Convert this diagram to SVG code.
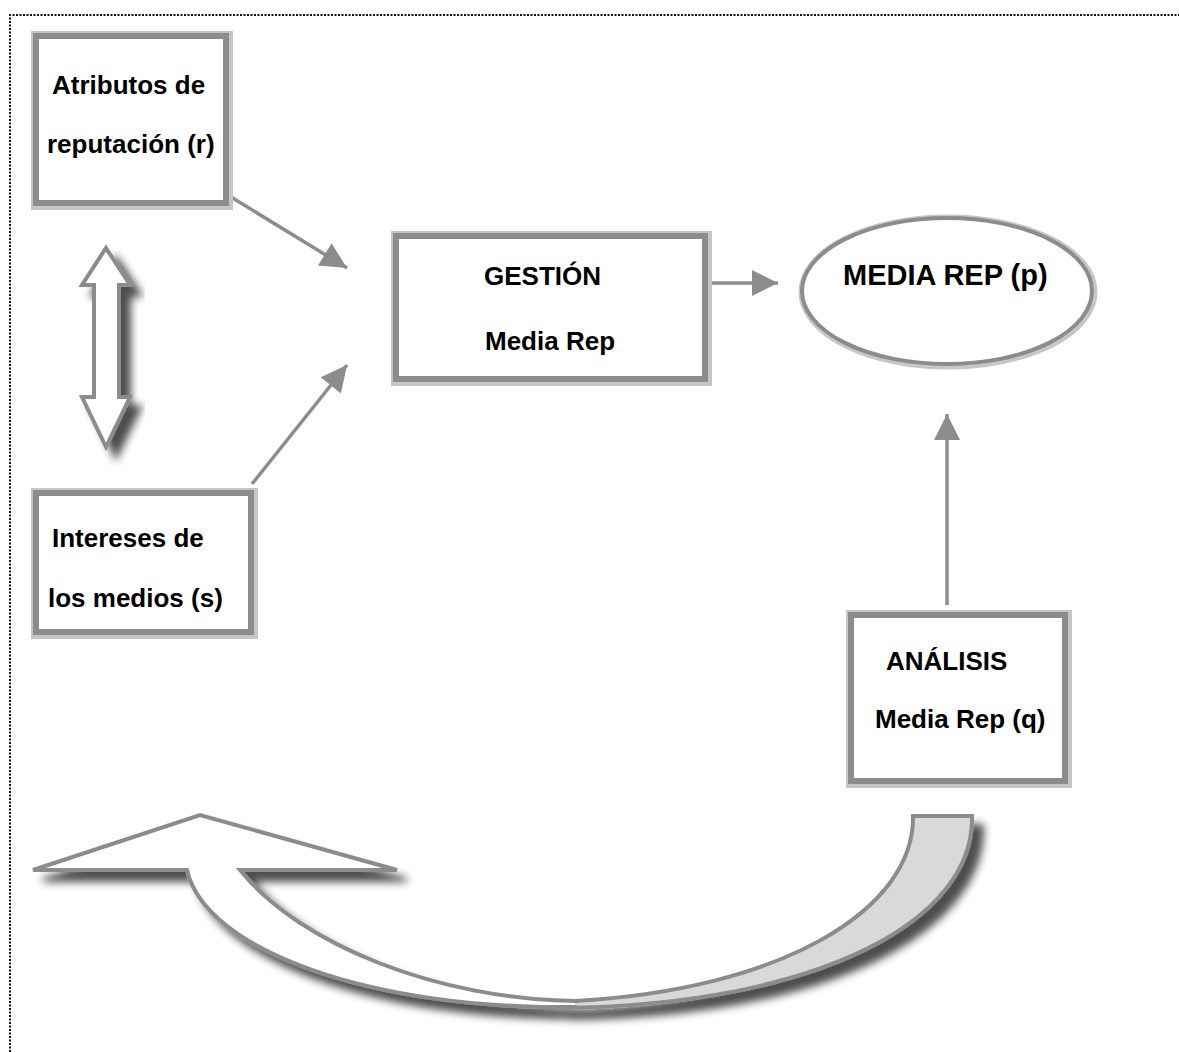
<svg xmlns="http://www.w3.org/2000/svg" width="1179" height="1052" viewBox="0 0 1179 1052">
  <defs>
    <style>
      .lbl { font-family: "Liberation Sans", Arial, sans-serif; font-weight: bold; font-size: 26px; fill: #000; }
      .big { font-size: 29px; }
      .halo { fill: none; stroke: #c6c6c6; stroke-width: 8; }
      .frame { fill: #fff; stroke: #8c8c8c; stroke-width: 6; }
      .link { fill: none; stroke: #8c8c8c; stroke-width: 3.5; }
      .shape { stroke: #8c8c8c; stroke-width: 4; stroke-linejoin: miter; }
      .edge { fill: none; stroke: #8c8c8c; stroke-width: 4; stroke-linejoin: miter; }
    </style>
    <marker id="tri" viewBox="0 0 10 10" refX="10" refY="5" markerUnits="userSpaceOnUse" markerWidth="28" markerHeight="26" orient="auto">
      <path d="M0,0 L10,5 L0,10 Z" fill="#8c8c8c"/>
    </marker>
    <filter id="drop" x="-20%" y="-20%" width="150%" height="150%">
      <feGaussianBlur in="SourceAlpha" stdDeviation="4.5" result="b"/>
      <feOffset in="b" dx="10" dy="10" result="o"/>
      <feComponentTransfer in="o" result="s">
        <feFuncA type="linear" slope="0.7"/>
      </feComponentTransfer>
      <feMerge>
        <feMergeNode in="s"/>
        <feMergeNode in="SourceGraphic"/>
      </feMerge>
    </filter>
  </defs>

  <rect width="1179" height="1052" fill="#fff"/>

  <!-- dotted page frame -->
  <path d="M10,1052 L10,15 L1179,15" fill="none" stroke="#111" stroke-width="2" stroke-dasharray="2,1.5"/>

  <!-- connectors -->
  <g id="connectors">
    <line class="link" x1="231" y1="197" x2="347" y2="268" marker-end="url(#tri)"/>
    <line class="link" x1="252" y1="484" x2="347" y2="365" marker-end="url(#tri)"/>
    <line class="link" x1="708" y1="283" x2="778" y2="283" marker-end="url(#tri)"/>
    <line class="link" x1="947" y1="605" x2="947" y2="414" marker-end="url(#tri)"/>
  </g>

  <!-- two-way arrow between the left boxes -->
  <g id="double-arrow" filter="url(#drop)">
    <path class="shape" fill="#fff" d="M106,248 L130,285 L119,285 L119,397 L130,397 L106,447 L82,397 L94,397 L94,285 L82,285 Z" stroke-width="3"/>
  </g>

  <!-- returning curved arrow: grey back face on the right, white front face with head on the left -->
  <g id="return-arrow" filter="url(#drop)">
    <path fill="#d9d9d9" d="M913,816 L972,816 C975,920 820,1005 560,1008 L575,1001 C780,990 915,910 913,816 Z"/>
    <path fill="#fff" d="M33,870 L200,815 L397,870 L240,870 C300,945 440,1000 575,1001 L575,1007 C370,1010 205,950 187,870 Z"/>
    <path class="edge" d="M560,1008 C820,1005 975,920 972,816 L913,816 C915,910 780,990 575,1001"/>
    <path class="edge" d="M577,1001 C440,1000 300,945 240,870 L397,870 L200,815 L33,870 L187,870 C205,950 370,1010 577,1007"/>
  </g>

  <g id="node-atributos">
    <rect class="halo" x="35" y="35" width="194" height="171"/>
    <rect class="frame" x="36" y="36" width="190" height="167"/>
    <text class="lbl" x="52" y="94">Atributos de</text>
    <text class="lbl" x="47" y="153">reputación (r)</text>
  </g>

  <g id="node-intereses">
    <rect class="halo" x="35" y="492" width="219" height="143"/>
    <rect class="frame" x="36" y="493" width="215" height="139"/>
    <text class="lbl" x="52" y="547">Intereses de</text>
    <text class="lbl" x="48" y="607">los medios (s)</text>
  </g>

  <g id="node-gestion">
    <rect class="halo" x="395" y="235" width="313" height="147"/>
    <rect class="frame" x="396" y="236" width="309" height="143"/>
    <text class="lbl" x="484" y="285">GESTIÓN</text>
    <text class="lbl" x="485" y="350">Media Rep</text>
  </g>

  <g id="node-media-rep">
    <ellipse cx="948" cy="292" rx="146" ry="74" fill="none" stroke="#c6c6c6" stroke-width="7"/>
    <ellipse cx="947" cy="291" rx="145" ry="73" fill="#fff" stroke="#8c8c8c" stroke-width="4"/>
    <text class="lbl big" x="843" y="285">MEDIA REP (p)</text>
  </g>

  <g id="node-analisis">
    <rect class="halo" x="850" y="614" width="218" height="170"/>
    <rect class="frame" x="851" y="615" width="214" height="166"/>
    <text class="lbl" x="886" y="670">ANÁLISIS</text>
    <text class="lbl" x="875" y="728">Media Rep (q)</text>
  </g>
</svg>
